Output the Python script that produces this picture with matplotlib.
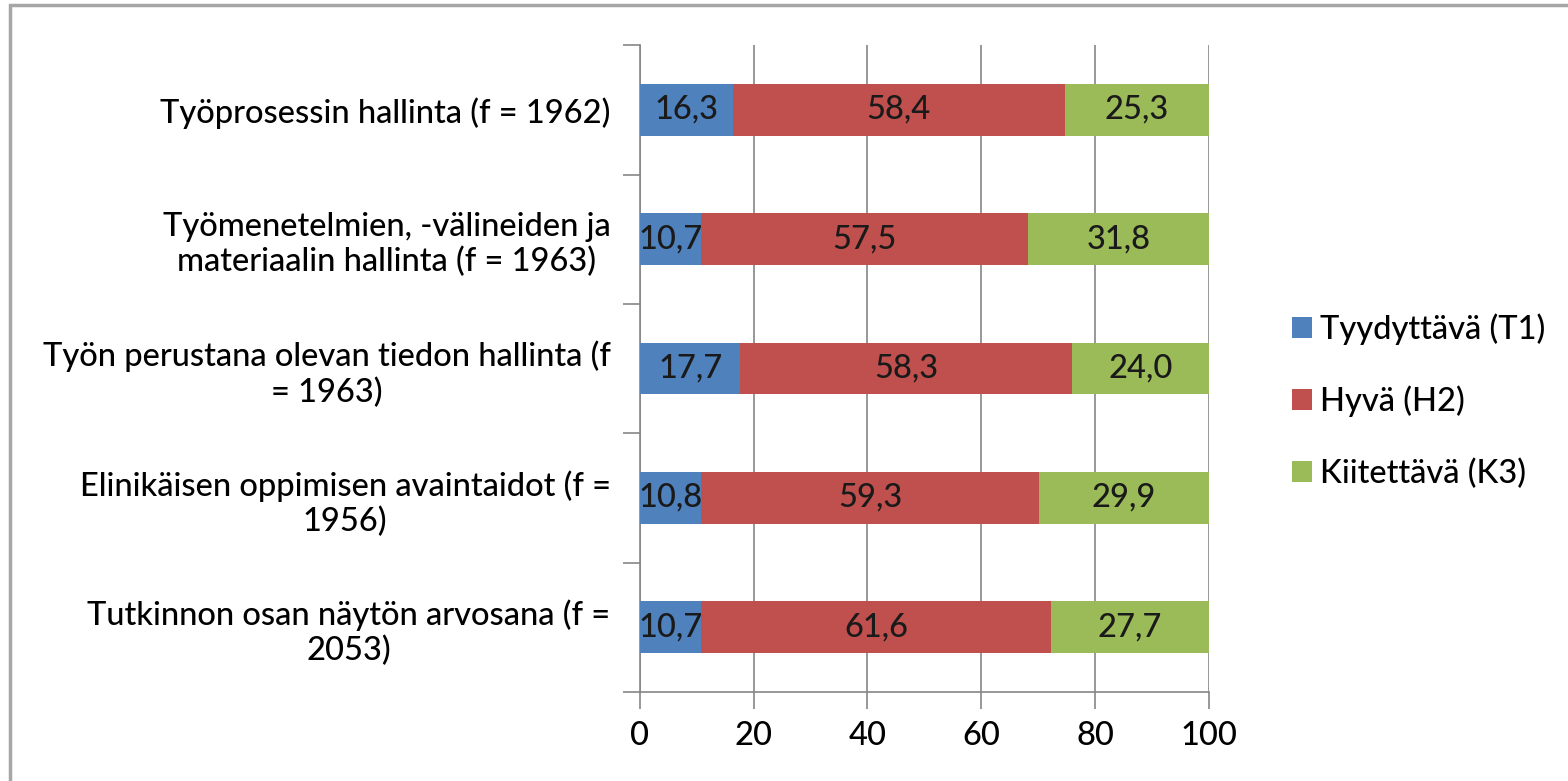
import numpy as np
import matplotlib
matplotlib.use('Agg')
import matplotlib.pyplot as plt
from matplotlib.patches import Rectangle

plt.rcParams['font.family'] = ['Lato', 'DejaVu Sans']
plt.rcParams['font.weight'] = 'medium'

# categories, top to bottom
categories = ['Työprosessin hallinta (f = 1962)',
              'Työmenetelmien, -välineiden ja\nmateriaalin hallinta (f = 1963)',
              'Työn perustana olevan tiedon hallinta (f\n= 1963)',
              'Elinikäisen oppimisen avaintaidot (f =\n1956)',
              'Tutkinnon osan näytön arvosana (f =\n2053)']
t1 = [16.3, 10.7, 17.7, 10.8, 10.7]
h2 = [58.4, 57.5, 58.3, 59.3, 61.6]
k3 = [25.3, 31.8, 24.0, 29.9, 27.7]
series_names = ['Tyydyttävä (T1)', 'Hyvä (H2)', 'Kiitettävä (K3)']
colors = ['#4F81BD', '#C0504D', '#9BBB59']
xticks = [0, 20, 40, 60, 80, 100]

fs = 23.5

fig = plt.figure(figsize=(15.68, 7.81), dpi=100)
ax = fig.add_axes([0.408, 0.114, 0.363, 0.828])

y = np.arange(len(categories))[::-1]
left = np.zeros(len(categories))
for vals, name, col in zip([t1, h2, k3], series_names, colors):
    bars = ax.barh(y, vals, left=left, height=0.4, color=col, label=name, zorder=3)
    ax.bar_label(bars, labels=[('%.1f' % v).replace('.', ',') for v in vals],
                 label_type='center', fontsize=fs, color='#1a1a1a')
    left = left + np.array(vals)

ax.set_xlim(0, 100)
ax.set_ylim(-0.5, len(categories) - 0.5)
ax.set_xticks(xticks)
ax.set_xticklabels([str(v) for v in xticks], fontsize=fs)
ax.set_yticks(np.arange(-0.5, len(categories), 1.0))
ax.set_yticklabels([])
ax.set_yticks(y, minor=True)
ax.set_yticklabels(categories, minor=True, fontsize=fs, multialignment='center')
ax.tick_params(axis='y', which='minor', length=0, pad=21)
ax.tick_params(axis='y', which='major', length=12, color='#868686', width=1.2)
ax.tick_params(axis='x', length=12, color='#868686', width=1.2, pad=9)
ax.xaxis.grid(True, color='#868686', linewidth=1.2, zorder=0)
for s in ['top', 'right']:
    ax.spines[s].set_visible(False)
for s in ['left', 'bottom']:
    ax.spines[s].set_color('#868686')
    ax.spines[s].set_linewidth(1.2)

ax.legend(loc='center left', bbox_to_anchor=(1.095, 0.45), frameon=False, fontsize=fs,
          handlelength=0.6, handleheight=0.6, handletextpad=0.25, labelspacing=1.25)

fig.patches.append(Rectangle((10 / 1568, -0.1), 1.2, 1.1 - 5 / 781,
                             transform=fig.transFigure, fill=False,
                             edgecolor='#a6a6a6', linewidth=2.5))

fig.savefig('out.png', dpi=100)
